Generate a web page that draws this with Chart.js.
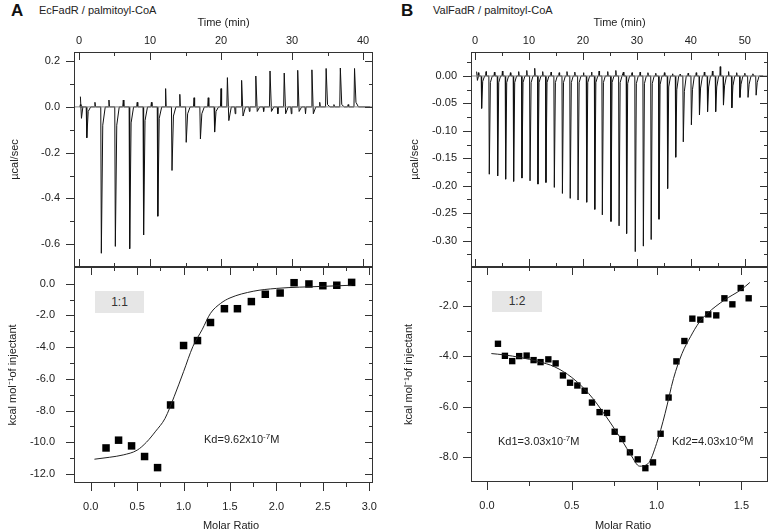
<!DOCTYPE html>
<html>
<head>
<meta charset="utf-8">
<script src="https://cdn.jsdelivr.net/npm/chart.js@4.4.1/dist/chart.umd.min.js"></script>
<style>
    body { margin: 0; background: #fff; width: 773px; height: 532px; position: relative; overflow: hidden; font-family: "Liberation Sans", Arial, sans-serif; color: #222; }
    canvas { position: absolute; }
    .txt { position: absolute; font-size: 11px; line-height: 11px; white-space: nowrap; color: #222; }
    .big { position: absolute; font-size: 17px; line-height: 17px; font-weight: bold; color: #111; }
    .box { position: absolute; background: #e6e6e6; font-size: 12px; text-align: center; color: #333; }
    sup { font-size: 8px; line-height: 0; vertical-align: 4px; }
</style>
</head>
<body>
<div class="big" style="left:11px;top:2px;">A</div>
<div class="txt" style="left:39px;top:5px;">EcFadR / palmitoyl-CoA</div>
<div class="big" style="left:401px;top:2px;">B</div>
<div class="txt" style="left:433px;top:5px;">ValFadR / palmitoyl-CoA</div>

<canvas id="aTop" width="390" height="268" style="left:0;top:0;"></canvas>
<canvas id="aBottom" width="390" height="265" style="left:0;top:267px;"></canvas>
<canvas id="bTop" width="383" height="268" style="left:390px;top:0;"></canvas>
<canvas id="bBottom" width="383" height="265" style="left:390px;top:267px;"></canvas>

<div class="box" style="left:95px;top:291px;width:49px;height:22px;line-height:22px;">1:1</div>
<div class="box" style="left:492px;top:291px;width:50px;height:21px;line-height:21px;">1:2</div>
<div class="txt" style="left:204px;top:434px;">Kd=9.62x10<sup>-7</sup>M</div>
<div class="txt" style="left:498px;top:436px;">Kd1=3.03x10<sup>-7</sup>M</div>
<div class="txt" style="left:672px;top:436px;">Kd2=4.03x10<sup>-6</sup>M</div>
<div class="txt" style="left:181px;top:520px;width:100px;text-align:center;">Molar Ratio</div>
<div class="txt" style="left:573px;top:520px;width:100px;text-align:center;">Molar Ratio</div>

<script>
// ---- panel A, raw thermogram (injection time in min, peak in ucal/sec)
const aTime = [1.1, 3.15, 5.12, 7.14, 9.1, 11.1, 13.1, 15.1, 17.1, 19.1, 20.9, 22.9, 24.9, 26.9, 28.9, 30.8, 32.8, 34.8, 36.8, 38.8];
const aPeak = [-0.135, -0.64, -0.61, -0.62, -0.56, -0.478, -0.278, -0.155, -0.14, -0.11, 0.128, 0.116, 0.135, 0.157, 0.148, 0.16, 0.162, 0.168, 0.17, 0.168];
const aPre = [0.01, 0.02, 0.03, 0.03, 0.02, 0.02, 0.08, 0.055, 0.04, 0.04, 0.08, -0.03, -0.02, -0.02, -0.03, -0.03, -0.03, 0.02, 0.01, 0.01];
const aTail = [-0.02, -0.08, -0.08, -0.07, -0.06, -0.05, -0.04, -0.03, -0.03, -0.02, -0.06, -0.04, -0.02, -0.02, -0.03, -0.02, -0.03, 0.01, 0.01, 0.02];
const aStart = [0.045, -0.05];

// ---- panel A, integrated heats
const aRatio = [0.165, 0.30, 0.44, 0.58, 0.72, 0.86, 1.00, 1.15, 1.29, 1.44, 1.58, 1.73, 1.88, 2.04, 2.19, 2.35, 2.50, 2.65, 2.81];
const aHeat = [-10.36, -9.87, -10.23, -10.9, -11.6, -7.65, -3.9, -3.59, -2.45, -1.58, -1.58, -1.13, -0.67, -0.59, 0.06, -0.02, -0.13, -0.1, 0.08];
const aFitX = [0.04, 0.2, 0.35, 0.5, 0.6, 0.7, 0.8, 0.9, 1.0, 1.1, 1.2, 1.29, 1.4, 1.5, 1.75, 2.0, 2.5, 2.81];
const aFitY = [-11.07, -10.95, -10.8, -10.5, -10.0, -9.3, -8.5, -7.1, -5.55, -3.97, -2.9, -1.87, -1.24, -0.9, -0.48, -0.3, -0.17, -0.1];

// ---- panel B, raw thermogram
const bTime = [1.23, 2.65, 4.2, 5.68, 7.16, 8.7, 10.2, 11.67, 13.15, 14.7, 16.2, 17.65, 19.1, 20.7, 22.2, 23.6, 25.2, 26.7, 28.1, 29.7, 31.2, 32.65, 34.1, 35.7, 37.2, 38.6, 40.1, 41.6, 43.1, 44.6, 46.05, 47.6, 49.1, 50.6, 52.1];
const bPeak = [-0.059, -0.179, -0.182, -0.188, -0.192, -0.186, -0.191, -0.197, -0.194, -0.203, -0.214, -0.223, -0.226, -0.23, -0.243, -0.253, -0.265, -0.273, -0.287, -0.32, -0.31, -0.298, -0.261, -0.205, -0.148, -0.12, -0.089, -0.071, -0.065, -0.065, -0.053, -0.058, -0.039, -0.039, -0.035];
const bPre = [0.006, 0.008, 0.007, 0.009, 0.006, 0.008, 0.01, 0.014, 0.008, 0.007, 0.006, 0.008, 0.007, 0.006, 0.007, 0.009, 0.008, 0.01, 0.007, 0.006, 0.007, 0.006, 0.005, 0.006, 0.004, 0.003, 0.005, 0.006, 0.007, 0.009, 0.017, 0.008, 0.006, 0.005, 0.004];
const bTail = [-0.01, -0.012, -0.012, -0.012, -0.012, -0.012, -0.012, -0.012, -0.012, -0.012, -0.012, -0.012, -0.012, -0.012, -0.012, -0.012, -0.012, -0.012, -0.014, -0.014, -0.014, -0.014, -0.016, -0.02, -0.025, -0.028, -0.025, -0.022, -0.02, -0.02, -0.018, -0.018, -0.015, -0.015, -0.012];
const bStart = [0.008, -0.008];

// ---- panel B, integrated heats
const bRatio = [0.065, 0.106, 0.149, 0.19, 0.234, 0.275, 0.316, 0.362, 0.405, 0.448, 0.49, 0.533, 0.576, 0.619, 0.664, 0.708, 0.753, 0.798, 0.843, 0.889, 0.934, 0.979, 1.024, 1.071, 1.117, 1.164, 1.211, 1.258, 1.305, 1.352, 1.40, 1.447, 1.496, 1.543];
const bHeat = [-3.5, -3.98, -4.19, -3.99, -3.97, -4.15, -4.23, -4.12, -4.28, -4.76, -5.05, -5.16, -5.37, -5.84, -6.22, -6.25, -7.0, -7.29, -7.82, -8.1, -8.45, -8.22, -7.08, -5.64, -4.2, -3.39, -2.5, -2.54, -2.33, -2.37, -1.69, -1.93, -1.28, -1.69];
const bFitX = [0.026, 0.1, 0.2, 0.3, 0.4, 0.5, 0.6, 0.7, 0.8, 0.85, 0.9, 0.95, 1.0, 1.05, 1.1, 1.15, 1.2, 1.25, 1.3, 1.4, 1.5, 1.55];
const bFitY = [-3.89, -3.94, -4.05, -4.2, -4.42, -4.84, -5.48, -6.37, -7.39, -7.94, -8.37, -8.27, -7.47, -6.28, -4.88, -3.89, -3.22, -2.66, -2.29, -1.76, -1.34, -1.06];

// ---- tick labels
const aTimeTicks = [0, 10, 20, 30, 40];
const aTimeMinor = [5, 15, 25, 35];
const aRateTicks = [0.2, 0.0, -0.2, -0.4, -0.6];
const aRateMinor = [0.1, -0.1, -0.3, -0.5];
const aRatioTicks = [0.0, 0.5, 1.0, 1.5, 2.0, 2.5, 3.0];
const aRatioMinor = [0.25, 0.75, 1.25, 1.75, 2.25, 2.75];
const aHeatTicks = [0, -2, -4, -6, -8, -10, -12];
const aHeatMinor = [-1, -3, -5, -7, -9, -11];
const bTimeTicks = [0, 10, 20, 30, 40, 50];
const bTimeMinor = [5, 15, 25, 35, 45];
const bRateTicks = [0.0, -0.05, -0.1, -0.15, -0.2, -0.25, -0.3];
const bRateMinor = [0.025, -0.025, -0.075, -0.125, -0.175, -0.225, -0.275, -0.325];
const bRatioTicks = [0.0, 0.5, 1.0, 1.5];
const bRatioMinor = [0.25, 0.75, 1.25];
const bHeatTicks = [-2, -4, -6, -8];
const bHeatMinor = [-1, -3, -5, -7];

const FONT = { family: 'Liberation Sans, Arial, sans-serif', size: 11 };
const INK = '#222';

// spikes of the thermogram, one group of points per injection
function buildTrace(times, peaks, pre, tail, preOffset, startVals, start, end) {
    const pts = [{ x: start, y: startVals[0] }, { x: start + 0.15, y: startVals[1] }, { x: start + 0.35, y: 0 }];
    for (let i = 0; i < times.length; i++) {
        const t = times[i];
        pts.push({ x: t - preOffset - 0.08, y: 0 });
        pts.push({ x: t - preOffset, y: pre[i] });
        pts.push({ x: t - preOffset + 0.08, y: 0 });
        pts.push({ x: t - 0.08, y: 0 });
        pts.push({ x: t, y: peaks[i] });
        pts.push({ x: t + 0.2, y: tail[i] });
        pts.push({ x: t + 0.55, y: 0 });
    }
    pts.push({ x: end, y: 0 });
    return pts;
}

function zip(xs, ys) {
    return xs.map((v, i) => ({ x: v, y: ys[i] }));
}

// frame round the plot area plus inward / outward tick marks
const frameTicks = {
    id: 'frameTicks',
    afterDraw(chart, args, opts) {
        const { ctx, chartArea: a } = chart;
        const xs = chart.scales.x, ys = chart.scales.y;
        ctx.save();
        ctx.strokeStyle = '#333';
        ctx.lineWidth = 1;
        ctx.strokeRect(a.left + 0.5, a.top + 0.5, a.right - a.left - 1, a.bottom - a.top - 1);
        ctx.beginPath();
        const xMark = (v, len) => {
            const p = Math.round(xs.getPixelForValue(v)) + 0.5;
            ctx.moveTo(p, a.top); ctx.lineTo(p, a.top + len);
            if (opts.bottomOut) { ctx.moveTo(p, a.bottom); ctx.lineTo(p, a.bottom + len); }
            else { ctx.moveTo(p, a.bottom); ctx.lineTo(p, a.bottom - len); }
        };
        const yMark = (v, len) => {
            const p = Math.round(ys.getPixelForValue(v)) + 0.5;
            ctx.moveTo(a.left - len, p); ctx.lineTo(a.left, p);
            ctx.moveTo(a.right - len, p); ctx.lineTo(a.right, p);
        };
        opts.xMajor.forEach(v => xMark(v, 8));
        opts.xMinor.forEach(v => xMark(v, 4));
        opts.yMajor.forEach(v => yMark(v, 8));
        opts.yMinor.forEach(v => yMark(v, 4));
        ctx.stroke();
        ctx.restore();
    }
};

function axis(cfg) {
    return {
        type: 'linear',
        position: cfg.position,
        min: cfg.min,
        max: cfg.max,
        grid: { display: false, drawTicks: false },
        border: { display: false },
        afterBuildTicks: s => { s.ticks = cfg.ticks.map(v => ({ value: v })); },
        afterFit: s => {
            if (cfg.width) s.width = cfg.width;
            if (cfg.height) s.height = cfg.height;
            s.paddingTop = 0; s.paddingBottom = 0; s.paddingLeft = 0; s.paddingRight = 0;
        },
        ticks: { font: FONT, color: INK, padding: cfg.padding, autoSkip: false, maxRotation: 0, callback: v => cfg.fmt(v) },
        title: cfg.title ? { display: true, text: cfg.title, font: FONT, color: INK, padding: cfg.titlePad } : { display: false }
    };
}

function baseOptions(xAxis, yAxis, pad, marks) {
    return {
        responsive: false,
        animation: false,
        layout: { padding: pad, autoPadding: false },
        plugins: { legend: { display: false }, tooltip: { enabled: false }, frameTicks: marks },
        scales: { x: xAxis, y: yAxis }
    };
}

// ---------------- A top
new Chart(document.getElementById('aTop').getContext('2d'), {
    type: 'scatter',
    data: {
        datasets: [
            { data: [{ x: -0.7, y: 0 }, { x: 41.4, y: 0 }], showLine: true, borderColor: '#8a8a8a', borderWidth: 1, pointRadius: 0 },
            { data: buildTrace(aTime, aPeak, aPre, aTail, 0.9, aStart, 0.2, 41), showLine: true, borderColor: '#111', borderWidth: 1, pointRadius: 0 }
        ]
    },
    options: baseOptions(
        axis({ position: 'top', min: -0.7, max: 41.4, ticks: aTimeTicks, fmt: v => v.toFixed(0), padding: 4, height: 52, title: 'Time (min)', titlePad: { top: 16, bottom: 0 } }),
        axis({ position: 'left', min: -0.7, max: 0.24, ticks: aRateTicks, fmt: v => v.toFixed(1), padding: 14, width: 74, title: '\u00b5cal/sec', titlePad: { top: 8, bottom: 0 } }),
        { left: 0, right: 17, top: 0, bottom: 1 },
        { xMajor: aTimeTicks, xMinor: aTimeMinor, yMajor: aRateTicks, yMinor: aRateMinor, bottomOut: false }
    ),
    plugins: [frameTicks]
});

// ---------------- A bottom
new Chart(document.getElementById('aBottom').getContext('2d'), {
    type: 'scatter',
    data: {
        datasets: [
            { data: zip(aFitX, aFitY), showLine: true, borderColor: '#222', borderWidth: 1, pointRadius: 0, cubicInterpolationMode: 'monotone' },
            { data: zip(aRatio, aHeat), pointStyle: 'rect', pointRadius: 5.3, backgroundColor: '#000', borderWidth: 0 }
        ]
    },
    options: baseOptions(
        axis({ position: 'bottom', min: -0.18, max: 3.04, ticks: aRatioTicks, fmt: v => v.toFixed(1), padding: 17, height: 49 }),
        axis({ position: 'left', min: -12.57, max: 1.05, ticks: aHeatTicks, fmt: v => v.toFixed(1), padding: 19, width: 74, title: 'kcal mol\u207b\u00b9of injectant', titlePad: { top: 6, bottom: 0 } }),
        { left: 0, right: 17, top: 0, bottom: 0 },
        { xMajor: aRatioTicks, xMinor: aRatioMinor, yMajor: aHeatTicks, yMinor: aHeatMinor, bottomOut: true }
    ),
    plugins: [frameTicks]
});

// ---------------- B top
new Chart(document.getElementById('bTop').getContext('2d'), {
    type: 'scatter',
    data: {
        datasets: [
            { data: [{ x: -0.74, y: 0 }, { x: 54.3, y: 0 }], showLine: true, borderColor: '#8a8a8a', borderWidth: 1, pointRadius: 0 },
            { data: buildTrace(bTime, bPeak, bPre, bTail, 0.6, bStart, 0.3, 53.4), showLine: true, borderColor: '#111', borderWidth: 1, pointRadius: 0 }
        ]
    },
    options: baseOptions(
        axis({ position: 'top', min: -0.74, max: 54.3, ticks: bTimeTicks, fmt: v => v.toFixed(0), padding: 4, height: 52, title: 'Time (min)', titlePad: { top: 16, bottom: 0 } }),
        axis({ position: 'left', min: -0.348, max: 0.0437, ticks: bRateTicks, fmt: v => v.toFixed(2), padding: 14, width: 81, title: '\u00b5cal/sec', titlePad: { top: 18, bottom: 0 } }),
        { left: 0, right: 5, top: 0, bottom: 1 },
        { xMajor: bTimeTicks, xMinor: bTimeMinor, yMajor: bRateTicks, yMinor: bRateMinor, bottomOut: false }
    ),
    plugins: [frameTicks]
});

// ---------------- B bottom
new Chart(document.getElementById('bBottom').getContext('2d'), {
    type: 'scatter',
    data: {
        datasets: [
            { data: zip(bFitX, bFitY), showLine: true, borderColor: '#222', borderWidth: 1, pointRadius: 0, cubicInterpolationMode: 'monotone' },
            { data: zip(bRatio, bHeat), pointStyle: 'rect', pointRadius: 4.5, backgroundColor: '#000', borderWidth: 0 }
        ]
    },
    options: baseOptions(
        axis({ position: 'bottom', min: -0.094, max: 1.657, ticks: bRatioTicks, fmt: v => v.toFixed(1), padding: 17, height: 50 }),
        axis({ position: 'left', min: -9.0, max: -0.445, ticks: bHeatTicks, fmt: v => v.toFixed(1), padding: 13, width: 81, title: 'kcal mol\u207b\u00b9of injectant', titlePad: { top: 12, bottom: 0 } }),
        { left: 0, right: 5, top: 0, bottom: 0 },
        { xMajor: bRatioTicks, xMinor: bRatioMinor, yMajor: bHeatTicks, yMinor: bHeatMinor, bottomOut: true }
    ),
    plugins: [frameTicks]
});
</script>
</body>
</html>
